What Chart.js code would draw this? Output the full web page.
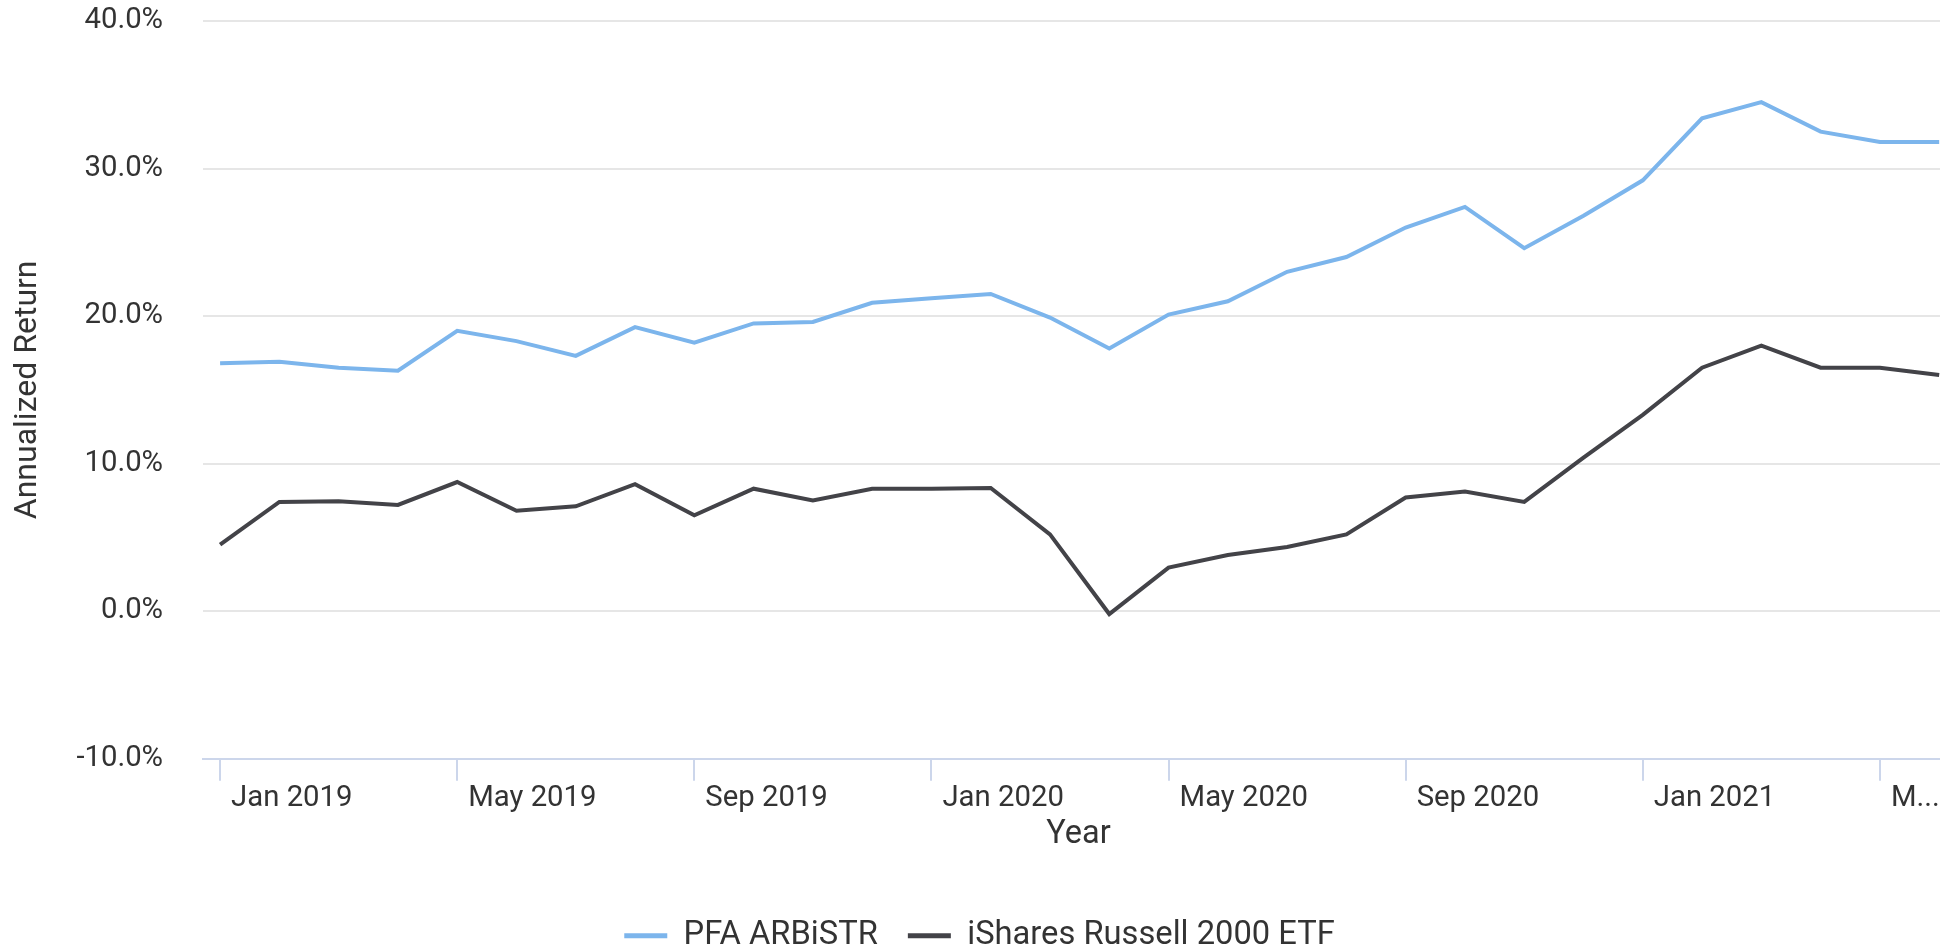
<!DOCTYPE html>
<html lang="en">
<head>
    <meta charset="UTF-8">
    <title>PFA ARBiSTR vs iShares Russell 2000 ETF</title>
    <style>
        html, body {
            margin: 0;
            padding: 0;
            background: #ffffff;
            overflow: hidden;
        }
        #chart {
            display: block;
        }
    </style>
</head>
<body>
    <!-- the chart is a bit bigger than the window, so its right end is cut off -->
    <canvas id="chart" width="1964" height="962"></canvas>

    <script src="https://cdn.jsdelivr.net/npm/chart.js"></script>
    <script>
        // Monthly annualized returns (%), Jan 2019 - Jun 2021
        const months = [
            'Jan 2019', 'Feb 2019', 'Mar 2019', 'Apr 2019', 'May 2019', 'Jun 2019',
            'Jul 2019', 'Aug 2019', 'Sep 2019', 'Oct 2019', 'Nov 2019', 'Dec 2019',
            'Jan 2020', 'Feb 2020', 'Mar 2020', 'Apr 2020', 'May 2020', 'Jun 2020',
            'Jul 2020', 'Aug 2020', 'Sep 2020', 'Oct 2020', 'Nov 2020', 'Dec 2020',
            'Jan 2021', 'Feb 2021', 'Mar 2021', 'Apr 2021', 'May 2021', 'Jun 2021'
        ];
        const pfaArbistr = [
            16.8, 16.9, 16.5, 16.3, 19.0, 18.3, 17.3, 19.25, 18.2, 19.5, 19.6, 20.9,
            21.2, 21.5, 19.9, 17.8, 20.1, 21.0, 23.0, 24.0, 26.0, 27.4, 24.6, 26.8,
            29.2, 33.4, 34.5, 32.5, 31.8, 31.8
        ];
        const russell2000 = [
            4.5, 7.4, 7.45, 7.2, 8.75, 6.8, 7.1, 8.6, 6.5, 8.3, 7.5, 8.3,
            8.3, 8.35, 5.2, -0.2, 2.95, 3.8, 4.35, 5.2, 7.7, 8.1, 7.4, 10.4,
            13.3, 16.5, 18.0, 16.5, 16.5, 16.0
        ];
        // x axis labels as shown (last one is cut by the chart edge)
        const xTickMonths = ['Jan 2019', 'May 2019', 'Sep 2019', 'Jan 2020', 'May 2020', 'Sep 2020', 'Jan 2021', 'May 2021'];
        const xTickLabels = ['Jan 2019', 'May 2019', 'Sep 2019', 'Jan 2020', 'May 2020', 'Sep 2020', 'Jan 2021', 'M...'];
        const yTicks = [-10, 0, 10, 20, 30, 40];

        const textColor = '#333333';
        const fontFamily = 'Roboto, "Noto Sans", Arial, sans-serif';

        const toPoints = arr => arr.map((v, i) => ({ x: i, y: v }));
        const tickIndex = xTickMonths.map(m => months.indexOf(m));

        const ctx = document.getElementById('chart').getContext('2d');
        const chart = new Chart(ctx, {
            type: 'line',
            data: {
                datasets: [
                    {
                        label: 'PFA ARBiSTR',
                        data: toPoints(pfaArbistr),
                        borderColor: '#7cb5ec',
                        backgroundColor: '#7cb5ec',
                        borderWidth: 4,
                        pointRadius: 0,
                        tension: 0
                    },
                    {
                        label: 'iShares Russell 2000 ETF',
                        data: toPoints(russell2000),
                        borderColor: '#434348',
                        backgroundColor: '#434348',
                        borderWidth: 4,
                        pointRadius: 0,
                        tension: 0
                    }
                ]
            },
            options: {
                responsive: false,
                animation: false,
                devicePixelRatio: 1,
                layout: {
                    padding: { top: 21, left: 5, right: 10, bottom: 0 }
                },
                scales: {
                    x: {
                        type: 'linear',
                        min: -0.287,
                        max: 29.25,
                        afterBuildTicks: scale => {
                            scale.ticks = tickIndex.map(v => ({ value: v }));
                        },
                        grid: {
                            drawOnChartArea: false,
                            drawTicks: true,
                            tickLength: 22,
                            color: '#ccd6eb',
                            lineWidth: 2
                        },
                        border: { display: true, color: '#ccd6eb', width: 2 },
                        ticks: {
                            autoSkip: false,
                            maxRotation: 0,
                            align: 'start',
                            labelOffset: 11,
                            padding: 0,
                            color: textColor,
                            font: { family: fontFamily, size: 29.3 },
                            callback: v => xTickLabels[tickIndex.indexOf(v)]
                        },
                        title: {
                            display: true,
                            text: 'Year',
                            color: textColor,
                            font: { family: fontFamily, size: 32.5 },
                            padding: { top: 0, bottom: 34.5 }
                        }
                    },
                    y: {
                        min: -10,
                        max: 40,
                        afterBuildTicks: scale => {
                            scale.ticks = yTicks.map(v => ({ value: v }));
                        },
                        // the 40px label gap should not push the plot top down
                        afterFit: scale => {
                            scale.paddingTop = 0;
                            scale.paddingBottom = 0;
                        },
                        grid: {
                            color: '#e6e6e6',
                            lineWidth: 2,
                            drawTicks: false
                        },
                        border: { display: false },
                        ticks: {
                            padding: 40,
                            color: textColor,
                            font: { family: fontFamily, size: 29.3 },
                            callback: v => v.toFixed(1) + '%'
                        },
                        title: {
                            display: true,
                            text: 'Annualized Return',
                            color: textColor,
                            font: { family: fontFamily, size: 32 },
                            padding: { top: 4, bottom: -11 }
                        }
                    }
                },
                plugins: {
                    tooltip: { enabled: false },
                    legend: {
                        position: 'bottom',
                        labels: {
                            color: textColor,
                            font: { family: fontFamily, size: 32.7 },
                            boxWidth: 43,
                            boxHeight: 5,
                            padding: 30,
                            generateLabels: c => Chart.defaults.plugins.legend.labels.generateLabels(c)
                                .map(l => ({ ...l, lineWidth: 0, fillStyle: l.strokeStyle }))
                        }
                    }
                }
            }
        });
    </script>
</body>
</html>
